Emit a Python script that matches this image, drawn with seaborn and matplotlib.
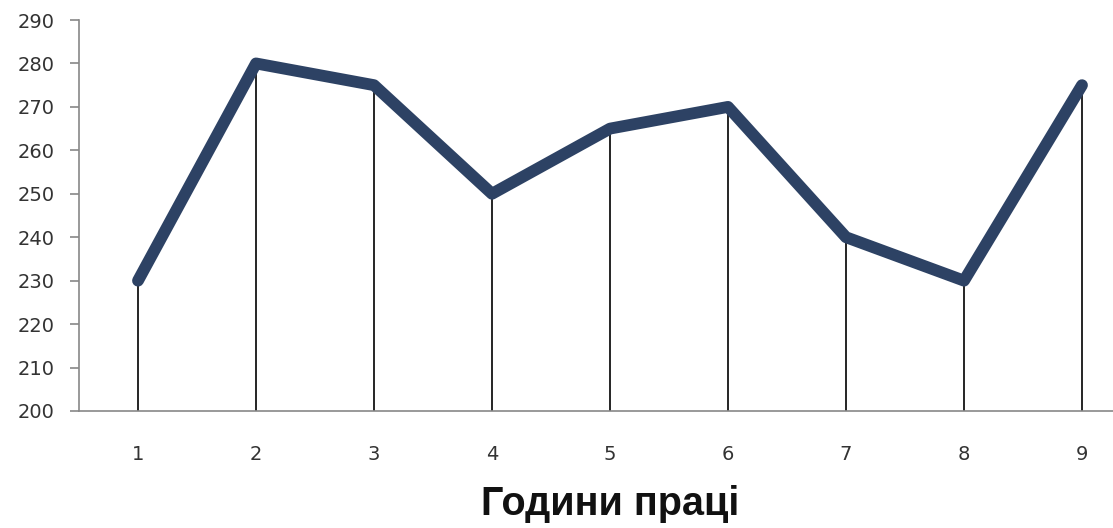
import matplotlib
matplotlib.use("Agg")
import matplotlib.pyplot as plt
import seaborn as sns
import pandas as pd

hours = [1, 2, 3, 4, 5, 6, 7, 8, 9]
values = [230, 280, 275, 250, 265, 270, 240, 230, 275]
y_ticks = [200, 210, 220, 230, 240, 250, 260, 270, 280, 290]
x_label = "Години праці"

sns.set_style("white")
plt.rcParams['font.family'] = ['DejaVu Sans']

df = pd.DataFrame({"hour": hours, "value": values})

fig = plt.figure(figsize=(11.13, 5.28), dpi=100)
ax = fig.add_axes([79/1113, 117/528, 1062/1113, 391/528])

ax.vlines(df["hour"], 200, df["value"], colors="black", linewidth=1.2, zorder=1)
sns.lineplot(data=df, x="hour", y="value", ax=ax, color="#2D4264",
             linewidth=8.5, solid_capstyle="round", solid_joinstyle="round", zorder=2)

ax.set_xlim(0.5, 9.5)
ax.set_ylim(200, 290)
ax.set_yticks(y_ticks)
ax.set_xticks(hours)
ax.set_xticklabels([str(h) for h in hours])

for s in ["top", "right"]:
    ax.spines[s].set_visible(False)
for s in ["left", "bottom"]:
    ax.spines[s].set_color("#888888")
    ax.spines[s].set_linewidth(1.2)

ax.tick_params(axis="y", which="both", left=True, length=6.5, width=1.2, color="#888888",
               labelsize=14, labelcolor="#333333", pad=11)
ax.tick_params(axis="x", which="both", bottom=False, labelsize=14, labelcolor="#333333", pad=21)

ax.set_ylabel("")
ax.set_xlabel(x_label, fontsize=28.5, fontweight="bold", color="#111111", labelpad=15,
              family=["Liberation Sans", "DejaVu Sans"])

fig.savefig("out.png", dpi=100)
